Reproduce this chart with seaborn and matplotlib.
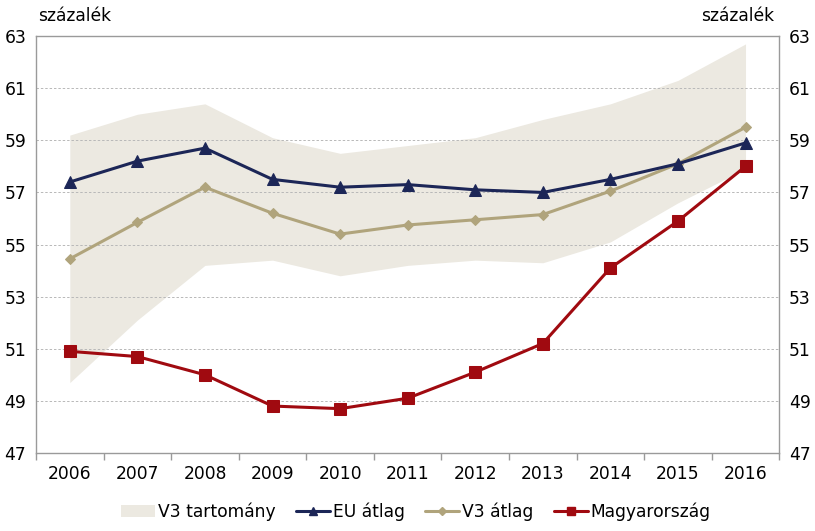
import numpy as np
import pandas as pd
import matplotlib
matplotlib.use("Agg")
import matplotlib.pyplot as plt
import seaborn as sns
from matplotlib.patches import Patch
from matplotlib.lines import Line2D

years = [2006, 2007, 2008, 2009, 2010, 2011, 2012, 2013, 2014, 2015, 2016]
eu_atlag = [57.4, 58.2, 58.7, 57.5, 57.2, 57.3, 57.1, 57.0, 57.5, 58.1, 58.9]
v3_atlag = [54.45, 55.85, 57.2, 56.2, 55.4, 55.75, 55.95, 56.15, 57.05, 58.1, 59.5]
magyarorszag = [50.9, 50.7, 50.0, 48.8, 48.7, 49.1, 50.1, 51.2, 54.1, 55.9, 58.0]
v3_min = [49.7, 52.1, 54.2, 54.4, 53.8, 54.2, 54.4, 54.3, 55.1, 56.6, 57.9]
v3_max = [59.2, 60.0, 60.4, 59.1, 58.5, 58.8, 59.1, 59.8, 60.4, 61.3, 62.7]

df = pd.DataFrame({"ev": years, "EU átlag": eu_atlag, "V3 átlag": v3_atlag,
                   "Magyarország": magyarorszag})

sns.set_theme(style="white")
plt.rcParams["font.family"] = ["DejaVu Sans"]
plt.rcParams["text.color"] = "black"

band_c = "#ECE9E1"
eu_c = "#1C2657"
v3_c = "#B0A47C"
hu_c = "#A00A10"
grey = "#9A9A9A"
fs = 12.3

fig = plt.figure(figsize=(8.15, 5.31), dpi=100)
ax = fig.add_axes([0.0442, 0.147, 0.912, 0.785])

ax.fill_between(years, v3_min, v3_max, color=band_c, lw=0, zorder=1)
sns.lineplot(data=df, x="ev", y="EU átlag", ax=ax, color=eu_c, lw=2.2,
             marker="^", markersize=8.5, markeredgecolor=eu_c, zorder=4)
sns.lineplot(data=df, x="ev", y="V3 átlag", ax=ax, color=v3_c, lw=2.2,
             marker="D", markersize=5.5, markeredgecolor=v3_c, zorder=3)
sns.lineplot(data=df, x="ev", y="Magyarország", ax=ax, color=hu_c, lw=2.2,
             marker="s", markersize=8, markeredgecolor=hu_c, zorder=5)

ax.set_xlim(2005.5, 2016.5)
ax.set_ylim(47, 63)
yt = list(range(47, 64, 2))
ax.set_yticks(yt)
ax.set_xticks(years)
ax.set_xticks([y + 0.5 for y in [2005] + years], minor=True)
ax.set_xlabel("")
ax.set_ylabel("")
for v in yt[1:-1]:
    ax.axhline(v, color="#B8B8B8", lw=0.7, ls=(0, (2.5, 2)), zorder=2)

for s in ax.spines.values():
    s.set_color(grey)
    s.set_linewidth(1.0)

ax.tick_params(axis="x", which="major", length=0, pad=9, labelsize=fs, colors="black")
ax.tick_params(axis="x", which="minor", length=5, color=grey, direction="out", bottom=True)
ax.tick_params(axis="y", length=0, pad=7, labelsize=fs, colors="black",
               labelleft=True, labelright=True)

fig.text(0.047, 0.953, "százalék", fontsize=fs, ha="left", va="bottom")
fig.text(0.950, 0.953, "százalék", fontsize=fs, ha="right", va="bottom")

handles = [
    Patch(facecolor=band_c, edgecolor="none", label="V3 tartomány"),
    Line2D([], [], color=eu_c, lw=2.2, marker="^", markersize=6, label="EU átlag"),
    Line2D([], [], color=v3_c, lw=2.2, marker="D", markersize=4, label="V3 átlag"),
    Line2D([], [], color=hu_c, lw=2.2, marker="s", markersize=6, label="Magyarország"),
]
fig.legend(handles=handles, loc="center", bbox_to_anchor=(0.51, 0.037), ncol=4,
           frameon=False, fontsize=fs, handlelength=2.0, handletextpad=0.15,
           columnspacing=1.2, labelcolor="black")

fig.savefig("out.png", dpi=100)
